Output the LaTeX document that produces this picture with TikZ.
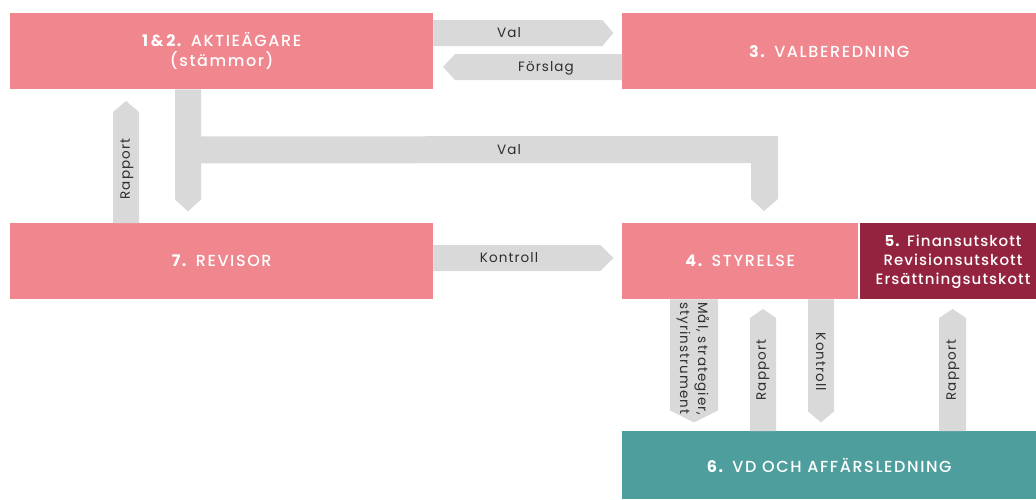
\documentclass[tikz,border=0pt]{standalone}
\usepackage{fontspec}
\setmainfont{Poppins}
\newfontfamily\boxfont[LetterSpace=10, UprightFont={Poppins Medium}, BoldFont={Poppins Bold}]{Poppins}
\newfontfamily\utskfont[LetterSpace=7, UprightFont={Poppins Medium}, BoldFont={Poppins Bold}]{Poppins}
\newfontfamily\labfont[LetterSpace=8]{Poppins}
\usetikzlibrary{calc}
\definecolor{pinkbox}{HTML}{F0868E}
\definecolor{maroonbox}{HTML}{93233F}
\definecolor{tealbox}{HTML}{4F9E9E}
\definecolor{conngray}{HTML}{D9D9D9}
\definecolor{labtext}{HTML}{2E2E2E}
\begin{document}
\begin{tikzpicture}[x=1pt,y=-1pt,
  box/.style={fill=pinkbox, text=white, inner sep=0pt, anchor=north west,
    font=\boxfont\fontsize{16}{20}\selectfont, align=center},
  conn/.style={fill=conngray},
  lab/.style={text=labtext, font=\labfont\fontsize{13.5}{18}\selectfont, inner sep=0pt},
  vlab/.style={lab, rotate=90},
  vlabdown/.style={lab, rotate=-90}]
\useasboundingbox (0,0) rectangle (1036,499);
\fill[white] (0,0) rectangle (1036,499);

% boxes
\node[box, minimum width=423pt, minimum height=76pt] (ak) at (10,13) {\textbf{1\,\&\,2.} AKTIEÄGARE\\(stämmor)};
\node[box, minimum width=414pt, minimum height=76pt] (vb) at (622,13) {\textbf{3.} VALBEREDNING};
\node[box, minimum width=423pt, minimum height=76pt] (rev) at (10,223) {\textbf{7.} REVISOR};
\node[box, minimum width=236pt, minimum height=76pt] (sty) at (622,223) {\textbf{4.} STYRELSE};
\node[box, fill=maroonbox, minimum width=176pt, minimum height=76pt] (utsk) at (860,223) {};
\node[box, fill=tealbox, minimum width=414pt, minimum height=68pt] (vd) at (622,431) {\textbf{6.} VD OCH AFFÄRSLEDNING};
\node[text=white, font=\utskfont\fontsize{15}{19}\selectfont, align=center, inner sep=0pt] (utskt) at (953,262)
  {\textbf{5.} Finansutskott\\Revisionsutskott\\Ersättningsutskott};

% connectors
\fill[conn] (ak.north east) ++(0,7) -- ++(169,0) -- ++(11,13) -- ++(-11,13) -- ++(-169,0) -- cycle;
\fill[conn] (vb.north west) ++(0,41) -- ++(-167,0) -- ++(-12,13) -- ++(12,13) -- ++(167,0) -- cycle;
\fill[conn] ($(ak.south west)+(165,0)$) -- ++(0,110) -- ++(13,12) -- ++(13,-12) -- ++(0,-36)
  -- ($(sty.north west)+(129,-60)$) -- ++(0,36) -- ++(13,12) -- ++(14,-12) -- ++(0,-63)
  -- ($(ak.south west)+(191,47)$) -- ($(ak.south west)+(191,0)$) -- cycle;
\fill[conn] ($(rev.north west)+(103,0)$) -- ++(0,-111) -- ++(13,-11) -- ++(13,11) -- ++(0,111) -- cycle;
\fill[conn] ($(rev.north east)+(0,22)$) -- ++(167,0) -- ++(13,13) -- ++(-13,13) -- ++(-167,0) -- cycle;
\fill[conn] ($(sty.south west)+(48,0)$) -- ++(0,111) -- ++(24,12) -- ++(24,-12) -- ++(0,-111) -- cycle;
\fill[conn] ($(vd.north west)+(128,0)$) -- ++(0,-113) -- ++(13,-9) -- ++(13,9) -- ++(0,113) -- cycle;
\fill[conn] ($(sty.south west)+(186,0)$) -- ++(0,112) -- ++(13,11) -- ++(13,-11) -- ++(0,-112) -- cycle;
\fill[conn] ($(vd.north west)+(317,0)$) -- ++(0,-113) -- ++(13.5,-9) -- ++(13.5,9) -- ++(0,113) -- cycle;

% labels
\node[lab] (l1) at (509,33) {Val};
\node[lab] (l2) at (546,68) {Förslag};
\node[lab] (l3) at (509,150) {Val};
\node[lab] (l4) at (509,258) {Kontroll};
\node[vlab] (l5) at (127,169) {Rapport};
\node[vlabdown, anchor=west, align=left] (l6) at (693,302) {Mål, strategier,\\styrinstrument};
\node[vlab] (l7) at (763,370) {Rapport};
\node[vlabdown] (l8) at (821,362) {Kontroll};
\node[vlab] (l9) at (953,370) {Rapport};
\end{tikzpicture}
\end{document}
